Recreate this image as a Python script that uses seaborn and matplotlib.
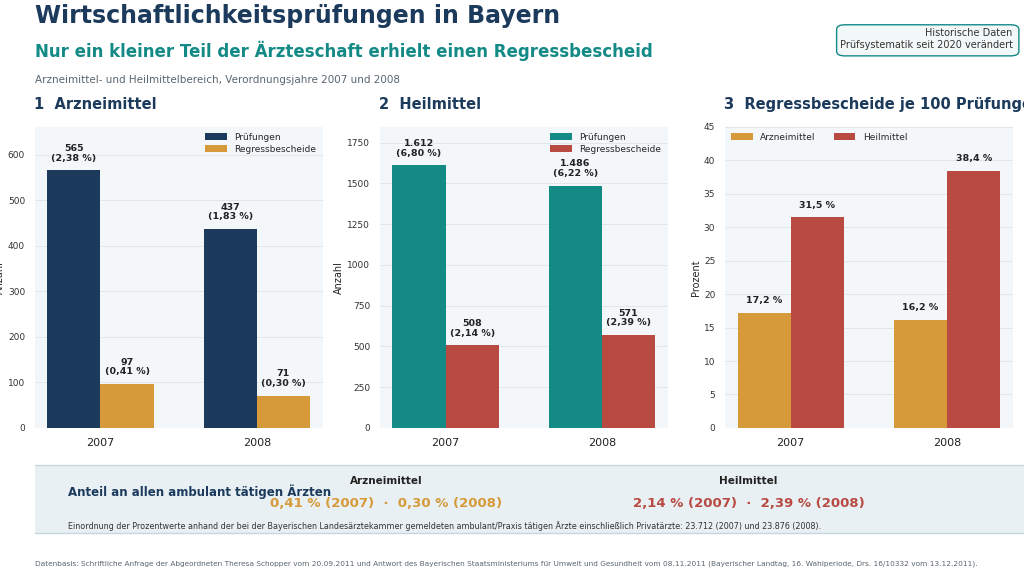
import pandas as pd
import matplotlib.pyplot as plt
import seaborn as sns
from matplotlib.patches import FancyBboxPatch, Rectangle

# Data
years = ['2007', '2008']
arznei_pruef = [565, 437]
arznei_regress = [97, 71]
arznei_pruef_pct = ['2,38 %', '1,83 %']
arznei_regress_pct = ['0,41 %', '0,30 %']
heil_pruef = [1612, 1486]
heil_regress = [508, 571]
heil_pruef_pct = ['6,80 %', '6,22 %']
heil_regress_pct = ['2,14 %', '2,39 %']
quote_arznei = [17.2, 16.2]
quote_heil = [31.5, 38.4]

NAVY = '#1b3a5c'
ORANGE = '#d69a3a'
TEAL = '#138a86'
RED = '#b84a42'
GREY = '#5a6670'

sns.set_theme(style='whitegrid')
plt.rcParams['font.family'] = ['DejaVu Sans']

fig = plt.figure(figsize=(10.24, 5.76), dpi=100)


def fmt(v):
    return f'{v:,}'.replace(',', '.')


def panel(left, title, s1, s2, v1, v2, c1, c2, ymax, ylabel, labels1, labels2, yticks):
    ax = fig.add_axes([left, 0.257, 0.281, 0.523])
    df = pd.DataFrame({'Jahr': years * 2, 'Wert': v1 + v2,
                       'Serie': [s1] * 2 + [s2] * 2})
    sns.barplot(data=df, x='Jahr', y='Wert', hue='Serie', palette=[c1, c2],
                width=0.68, gap=0, ax=ax, saturation=1, edgecolor='none')
    ax.set_facecolor('#f4f7f9')
    ax.set_xlim(-0.42, 1.42)
    ax.set_ylim(0, ymax)
    ax.set_yticks(yticks)
    ax.set_yticklabels([str(t) for t in yticks], fontsize=6.5, color='#333333')
    ax.tick_params(axis='x', labelsize=8, colors='#222222', pad=1)
    ax.tick_params(axis='y', pad=1)
    ax.grid(axis='x', visible=False)
    ax.grid(axis='y', color='#dde3e8', linewidth=0.6)
    for s in ax.spines.values():
        s.set_visible(False)
    ax.set_xlabel('')
    ax.set_ylabel(ylabel, fontsize=7, labelpad=2)
    ax.legend(loc='upper right', fontsize=6.5, frameon=False, handlelength=2.4,
              handleheight=0.8, borderaxespad=0.3, labelspacing=0.3)
    for i in range(2):
        ax.text(i - 0.17, v1[i] + ymax * 0.025, labels1[i], ha='center', va='bottom',
                fontsize=6.8, fontweight='bold', color='#222222', linespacing=1.1)
        ax.text(i + 0.17, v2[i] + ymax * 0.025, labels2[i], ha='center', va='bottom',
                fontsize=6.8, fontweight='bold', color='#222222', linespacing=1.1)
    fig.text(left - 0.001, 0.81, title, fontsize=10.5, fontweight='bold', color=NAVY)
    return ax


panel(0.034, '1  Arzneimittel', 'Prüfungen', 'Regressbescheide',
      arznei_pruef, arznei_regress, NAVY, ORANGE, 661, 'Anzahl',
      [f'{fmt(v)}\n({p})' for v, p in zip(arznei_pruef, arznei_pruef_pct)],
      [f'{fmt(v)}\n({p})' for v, p in zip(arznei_regress, arznei_regress_pct)],
      [0, 100, 200, 300, 400, 500, 600])
panel(0.371, '2  Heilmittel', 'Prüfungen', 'Regressbescheide',
      heil_pruef, heil_regress, TEAL, RED, 1848, 'Anzahl',
      [f'{fmt(v)}\n({p})' for v, p in zip(heil_pruef, heil_pruef_pct)],
      [f'{fmt(v)}\n({p})' for v, p in zip(heil_regress, heil_regress_pct)],
      [0, 250, 500, 750, 1000, 1250, 1500, 1750])
ax3 = panel(0.708, '3  Regressbescheide je 100 Prüfungen', 'Arzneimittel', 'Heilmittel',
            quote_arznei, quote_heil, ORANGE, RED, 45, 'Prozent',
            [f'{v:.1f} %'.replace('.', ',') for v in quote_arznei],
            [f'{v:.1f} %'.replace('.', ',') for v in quote_heil],
            list(range(0, 50, 5)))
ax3.legend(loc='upper left', ncol=2, fontsize=6.5, frameon=False, handlelength=2.4,
           handleheight=0.8, borderaxespad=0.3)

# Header
fig.text(0.034, 0.972, 'Wirtschaftlichkeitsprüfungen in Bayern', fontsize=17,
         fontweight='bold', color=NAVY, va='center')
fig.text(0.034, 0.912, 'Nur ein kleiner Teil der Ärzteschaft erhielt einen Regressbescheid',
         fontsize=12, fontweight='bold', color=TEAL, va='center')
fig.text(0.034, 0.861, 'Arzneimittel- und Heilmittelbereich, Verordnungsjahre 2007 und 2008',
         fontsize=7.5, color=GREY, va='center')
fig.patches.append(FancyBboxPatch((0.817, 0.903), 0.178, 0.054, transform=fig.transFigure,
                                  boxstyle='round,pad=0,rounding_size=0.008',
                                  facecolor='#f2f8f8', edgecolor=TEAL, linewidth=1))
fig.text(0.989, 0.942, 'Historische Daten', fontsize=7, ha='right', va='center', color='#333333')
fig.text(0.989, 0.922, 'Prüfsystematik seit 2020 verändert', fontsize=7, ha='right',
         va='center', color='#333333')

# Bottom band
fig.patches.append(Rectangle((0.034, 0.075), 0.966, 0.118, transform=fig.transFigure,
                             facecolor='#e8f0f4', edgecolor='none'))
fig.lines.append(plt.Line2D([0.034, 1], [0.193, 0.193], transform=fig.transFigure,
                            color='#c8d6de', linewidth=1))
fig.lines.append(plt.Line2D([0.034, 1], [0.075, 0.075], transform=fig.transFigure,
                            color='#c8d6de', linewidth=1))
fig.text(0.066, 0.147, 'Anteil an allen ambulant tätigen Ärzten', fontsize=8.5,
         fontweight='bold', color=NAVY, va='center')
fig.text(0.377, 0.165, 'Arzneimittel', fontsize=7.5, fontweight='bold', color='#222222',
         ha='center', va='center')
fig.text(0.731, 0.165, 'Heilmittel', fontsize=7.5, fontweight='bold', color='#222222',
         ha='center', va='center')
fig.text(0.377, 0.126, f'{arznei_regress_pct[0]} (2007)  ·  {arznei_regress_pct[1]} (2008)',
         fontsize=9.5, fontweight='bold', color=ORANGE, ha='center', va='center')
fig.text(0.731, 0.126, f'{heil_regress_pct[0]} (2007)  ·  {heil_regress_pct[1]} (2008)',
         fontsize=9.5, fontweight='bold', color=RED, ha='center', va='center')
fig.text(0.066, 0.086, 'Einordnung der Prozentwerte anhand der bei der Bayerischen Landesärztekammer '
         'gemeldeten ambulant/Praxis tätigen Ärzte einschließlich Privatärzte: 23.712 (2007) und 23.876 (2008).',
         fontsize=5.8, color='#333333', va='center')
fig.text(0.034, 0.022, 'Datenbasis: Schriftliche Anfrage der Abgeordneten Theresa Schopper vom 20.09.2011 '
         'und Antwort des Bayerischen Staatsministeriums für Umwelt und Gesundheit vom 08.11.2011 '
         '(Bayerischer Landtag, 16. Wahlperiode, Drs. 16/10332 vom 13.12.2011).',
         fontsize=5.3, color=GREY, va='center')

fig.savefig('out.png', dpi=100)
